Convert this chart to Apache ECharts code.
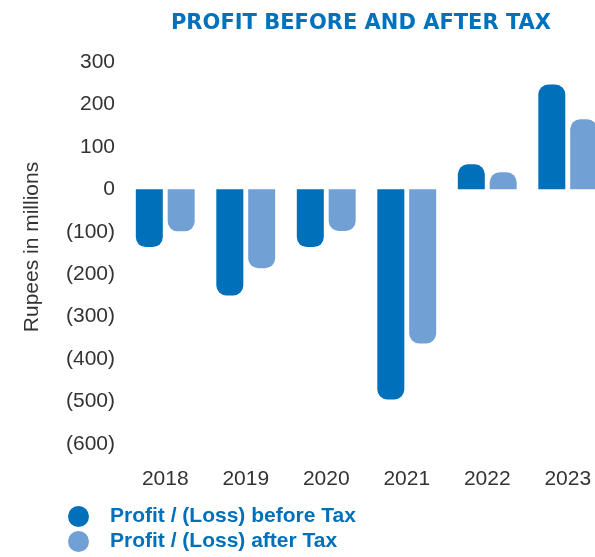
<!DOCTYPE html>
<html>
<head>
<meta charset="utf-8">
<script src="https://cdn.jsdelivr.net/npm/echarts@6/dist/echarts.min.js"></script>
<style>
  html, body { margin: 0; padding: 0; background: #fff; overflow: hidden; }
  /* chart is cropped on the right like the reference */
  #main { width: 608px; height: 557px; }
</style>
</head>
<body>
<div id="main"></div>
<script>
// data
const years = ['2018', '2019', '2020', '2021', '2022', '2023'];
const beforeTax = [-136, -250, -136, -495, 59, 247];
const afterTax = [-99, -186, -98, -363, 40, 165];

const BLUE = '#0070BA';
const LIGHT = '#71A0D5';

// rounded end away from zero
function rounded(arr) {
  return arr.map(v => ({
    value: v,
    itemStyle: { borderRadius: v >= 0 ? [10, 10, 0, 0] : [0, 0, 10, 10] }
  }));
}

const chartDom = document.getElementById('main');
const myChart = echarts.init(chartDom);
const option = {
  animation: false,
  title: {
    text: 'PROFIT BEFORE AND AFTER TAX',
    left: 356,
    top: 8,
    textAlign: 'center',
    textStyle: { color: '#0072BC', fontSize: 21, fontWeight: 'bold', fontFamily: 'DejaVu Sans' }
  },
  legend: {
    orient: 'vertical',
    left: 68,
    top: 506,
    padding: 0,
    icon: 'circle',
    itemWidth: 21,
    itemHeight: 21,
    itemGap: 4,
    textStyle: { color: BLUE, fontSize: 21, fontWeight: 'bold', fontFamily: 'Liberation Sans', padding: [0, 0, 0, 16] }
  },
  grid: { left: 125, right: 0, top: 62, bottom: 113, containLabel: false },
  xAxis: {
    type: 'category',
    data: years,
    axisLine: { show: false },
    axisTick: { show: false },
    axisLabel: { color: '#333', fontSize: 21, fontFamily: 'Liberation Sans', margin: 25 }
  },
  yAxis: {
    type: 'value',
    min: -600,
    max: 300,
    interval: 100,
    name: 'Rupees in millions',
    nameLocation: 'middle',
    nameGap: 82,
    nameTextStyle: { color: '#333', fontSize: 21, fontFamily: 'Liberation Sans', padding: [0, 0, 0, 12] },
    axisLine: { show: false },
    axisTick: { show: false },
    splitLine: { show: false },
    axisLabel: {
      color: '#333', fontSize: 21, fontFamily: 'Liberation Sans', margin: 10,
      formatter: v => v < 0 ? '(' + Math.abs(v) + ')' : String(v)
    }
  },
  series: [
    {
      name: 'Profit / (Loss) before Tax',
      type: 'bar',
      data: rounded(beforeTax),
      barWidth: 27,
      barGap: '18%',
      itemStyle: { color: BLUE }
    },
    {
      name: 'Profit / (Loss) after Tax',
      type: 'bar',
      data: rounded(afterTax),
      barWidth: 27,
      itemStyle: { color: LIGHT }
    }
  ]
};
option && myChart.setOption(option);
</script>
</body>
</html>
